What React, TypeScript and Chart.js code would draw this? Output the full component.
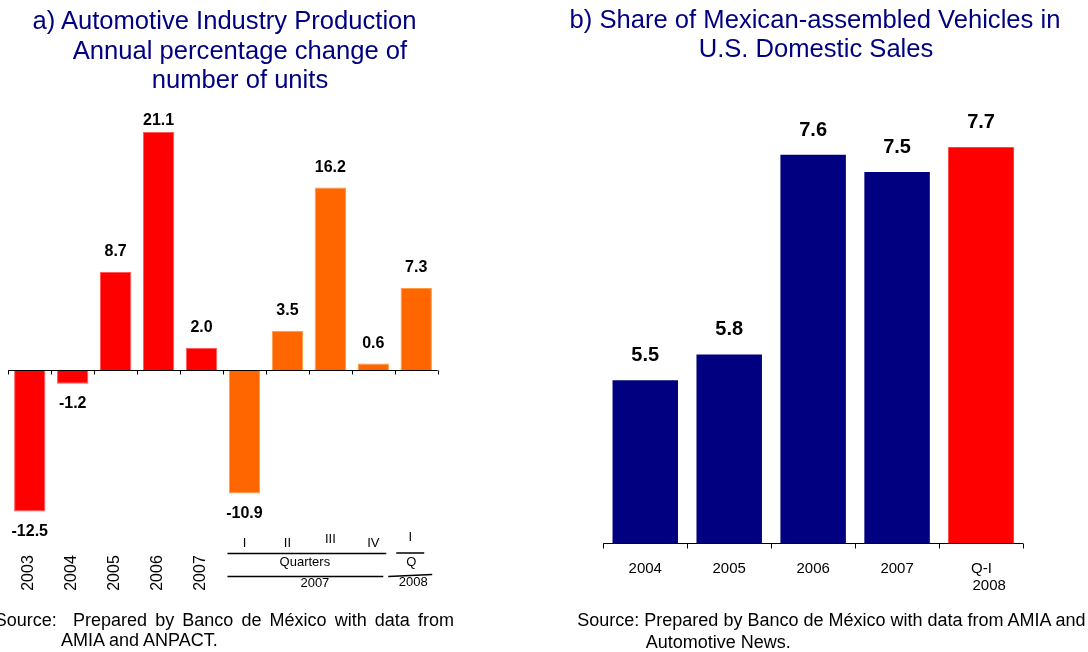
import React, { useEffect, useRef } from "react";
import { Chart, registerables } from "chart.js";

Chart.register(...registerables);

// ---------- Data: chart a) ----------
const prodCategories = ["2003", "2004", "2005", "2006", "2007", "Q1-2007", "Q2-2007", "Q3-2007", "Q4-2007", "Q1-2008"];
const prodValues = [-12.5, -1.2, 8.7, 21.1, 2.0, -10.9, 3.5, 16.2, 0.6, 7.3];
const prodColors = ["#FF0000", "#FF0000", "#FF0000", "#FF0000", "#FF0000", "#FF6600", "#FF6600", "#FF6600", "#FF6600", "#FF6600"];
const prodBorders = ["#FF5A5A", "#FF5A5A", "#FF5A5A", "#FF5A5A", "#FF5A5A", "#FF9A40", "#FF9A40", "#FF9A40", "#FF9A40", "#FF9A40"];
const yearTickLabels = ["2003", "2004", "2005", "2006", "2007"];
const quarterTickLabels = ["I", "II", "III", "IV"];
const nextQuarterTickLabel = "I";

// ---------- Data: chart b) ----------
const shareCategories: (string | string[])[] = ["2004", "2005", "2006", "2007", ["Q-I", "2008"]];
const shareValues = [5.52, 5.76, 7.62, 7.46, 7.69];
const shareColors = ["#000080", "#000080", "#000080", "#000080", "#FF0000"];

const FONT = "'Liberation Sans', Arial, Helvetica, sans-serif";

const prodPlugin = {
  id: "prodDecor",
  afterDatasetsDraw(chart: any) {
    const ctx = chart.ctx;
    const xs = chart.scales.x;
    const ys = chart.scales.y;
    const y0 = Math.round(ys.getPixelForValue(0)) + 0.5;
    const n = prodValues.length;
    const step = (xs.right - xs.left) / n;
    ctx.save();
    ctx.strokeStyle = "#000";
    ctx.lineWidth = 1;
    ctx.beginPath();
    ctx.moveTo(xs.left, y0);
    ctx.lineTo(xs.right, y0);
    for (let i = 0; i <= n; i++) {
      const bx = Math.round(xs.left + i * step) + 0.5;
      ctx.moveTo(bx, y0);
      ctx.lineTo(bx, y0 + 4);
    }
    ctx.stroke();

    const meta = chart.getDatasetMeta(0);
    ctx.fillStyle = "#000";
    ctx.font = `bold 16px ${FONT}`;
    ctx.textAlign = "center";
    ctx.textBaseline = "middle";
    meta.data.forEach((el: any, i: number) => {
      const v = prodValues[i];
      let ly;
      if (v >= 0) ly = Math.max(el.y - 20, chart.chartArea.top + 10);
      else ly = el.y + 20;
      ctx.fillText(v.toFixed(1), el.x, ly);
    });

    ctx.font = `16px ${FONT}`;
    yearTickLabels.forEach((t, i) => {
      const cx = xs.getPixelForValue(i);
      ctx.save();
      ctx.translate(cx - 1, 573);
      ctx.rotate(-Math.PI / 2);
      ctx.textAlign = "center";
      ctx.textBaseline = "middle";
      ctx.fillText(t, 0, 0);
      ctx.restore();
    });

    ctx.font = `13px ${FONT}`;
    ctx.textAlign = "center";
    ctx.textBaseline = "middle";
    quarterTickLabels.forEach((t, i) => {
      const cx = xs.getPixelForValue(5 + i);
      ctx.fillText(t, cx, t === "III" ? 539 : 543);
    });
    const qx = xs.getPixelForValue(9) - 6;
    ctx.fillText(nextQuarterTickLabel, qx, 537);

    const gl = xs.getPixelForValue(5) - 17;
    const gr = xs.getPixelForValue(8) + 13;
    ctx.strokeStyle = "#000";
    ctx.lineWidth = 1.6;
    ctx.beginPath();
    ctx.moveTo(gl, 553.5);
    ctx.lineTo(gr, 553.5);
    ctx.moveTo(qx - 14, 553);
    ctx.lineTo(qx + 14, 553);
    ctx.moveTo(gl, 576.5);
    ctx.lineTo(gr - 3, 576.5);
    ctx.moveTo(qx - 22, 576.5);
    ctx.lineTo(qx + 22, 574.5);
    ctx.stroke();

    ctx.fillText("Quarters", (gl + gr) / 2 - 2, 562);
    ctx.fillText("Q", qx + 1, 562);
    ctx.fillText("2007", (gl + gr) / 2 + 8, 583);
    ctx.fillText("2008", qx + 3, 582);
    ctx.restore();
  },
};

const sharePlugin = {
  id: "shareDecor",
  afterDatasetsDraw(chart: any) {
    const ctx = chart.ctx;
    const xs = chart.scales.x;
    const ys = chart.scales.y;
    const yb = Math.round(ys.getPixelForValue(ys.min)) + 0.5;
    const n = shareValues.length;
    const step = (xs.right - xs.left) / n;
    ctx.save();
    ctx.strokeStyle = "#000";
    ctx.lineWidth = 1;
    ctx.beginPath();
    ctx.moveTo(xs.left, yb);
    ctx.lineTo(xs.right, yb);
    for (let i = 0; i <= n; i++) {
      const bx = Math.round(xs.left + i * step) + 0.5;
      ctx.moveTo(bx, yb);
      ctx.lineTo(bx, yb + 5);
    }
    ctx.stroke();

    const meta = chart.getDatasetMeta(0);
    ctx.fillStyle = "#000";
    ctx.font = `bold 20px ${FONT}`;
    ctx.textAlign = "center";
    ctx.textBaseline = "middle";
    meta.data.forEach((el: any, i: number) => {
      ctx.fillText(shareValues[i].toFixed(1), el.x, el.y - 24.5);
    });

    ctx.font = `15px ${FONT}`;
    shareCategories.forEach((c, i) => {
      const cx = xs.getPixelForValue(i);
      if (Array.isArray(c)) {
        ctx.textAlign = "left";
        c.forEach((line, j) => ctx.fillText(line, cx - 10 + j * 1.5, yb + 25 + j * 17));
      } else {
        ctx.textAlign = "center";
        ctx.fillText(c, cx, yb + 25);
      }
    });
    ctx.restore();
  },
};

function ProdChart() {
  const ref = useRef<HTMLCanvasElement>(null);
  useEffect(() => {
    const chart = new Chart(ref.current as HTMLCanvasElement, {
      type: "bar",
      data: {
        labels: prodCategories,
        datasets: [
          {
            data: prodValues,
            backgroundColor: prodColors,
            borderColor: prodBorders,
            borderWidth: 1,
            categoryPercentage: 1,
            barPercentage: 0.73,
          },
        ],
      },
      options: {
        responsive: false,
        animation: false,
        devicePixelRatio: 1,
        layout: { padding: { left: 8.3, right: 544 - 437.7, top: 110.6, bottom: 652 - 539.7 } },
        plugins: { legend: { display: false }, tooltip: { enabled: false }, title: { display: false } },
        scales: {
          x: { display: false, offset: true },
          y: { display: false, min: -15, max: 23 },
        },
      },
      plugins: [prodPlugin],
    });
    return () => chart.destroy();
  }, []);
  return <canvas ref={ref} width={544} height={652} style={{ position: "absolute", left: 0, top: 0, display: "block" }} />;
}

function ShareChart() {
  const ref = useRef<HTMLCanvasElement>(null);
  useEffect(() => {
    const chart = new Chart(ref.current as HTMLCanvasElement, {
      type: "bar",
      data: {
        labels: shareCategories as any,
        datasets: [
          {
            data: shareValues,
            backgroundColor: shareColors,
            borderWidth: 0,
            categoryPercentage: 1,
            barPercentage: 0.78,
          },
        ],
      },
      options: {
        responsive: false,
        animation: false,
        devicePixelRatio: 1,
        layout: { padding: { left: 59.3, right: 65, top: 114.1, bottom: 652 - 543.3 } },
        plugins: { legend: { display: false }, tooltip: { enabled: false }, title: { display: false } },
        scales: {
          x: { display: false, offset: true },
          y: { display: false, min: 4, max: 8 },
        },
      },
      plugins: [sharePlugin],
    });
    return () => chart.destroy();
  }, []);
  return <canvas ref={ref} width={544} height={652} style={{ position: "absolute", left: 544, top: 0, display: "block" }} />;
}

const titleStyle = (center: number, top: number): React.CSSProperties => ({
  position: "absolute",
  left: center - 300,
  width: 600,
  top,
  textAlign: "center",
  fontSize: 25.6,
  lineHeight: "25px",
  color: "#000080",
  whiteSpace: "nowrap",
});

const srcStyle = (left: number, top: number): React.CSSProperties => ({
  position: "absolute",
  left,
  top,
  fontSize: 18,
  lineHeight: "18px",
  color: "#000",
  whiteSpace: "nowrap",
});

export default function App() {
  return (
    <div
      style={{
        position: "fixed",
        left: 0,
        top: 0,
        width: 1088,
        height: 652,
        background: "#fff",
        overflow: "hidden",
        fontFamily: FONT,
      }}
    >
      <ProdChart />
      <ShareChart />
      <div style={titleStyle(224.5, 8)}>a) Automotive Industry Production</div>
      <div style={titleStyle(240, 38)}>Annual percentage change of</div>
      <div style={titleStyle(240, 67)}>number of units</div>
      <div style={titleStyle(815, 6.5)}>b) Share of Mexican-assembled Vehicles in</div>
      <div style={titleStyle(816, 35.5)}>U.S. Domestic Sales</div>

      <div style={{ ...srcStyle(-5.3, 611), width: 459.3, textAlign: "justify", textAlignLast: "justify" } as React.CSSProperties}>
        Source:&nbsp; Prepared by Banco de México with data from
      </div>
      <div style={srcStyle(61, 631)}>AMIA and ANPACT.</div>
      <div style={srcStyle(577.3, 611)}>Source: Prepared by Banco de México with data from AMIA and</div>
      <div style={srcStyle(645.7, 633)}>Automotive News.</div>
    </div>
  );
}
